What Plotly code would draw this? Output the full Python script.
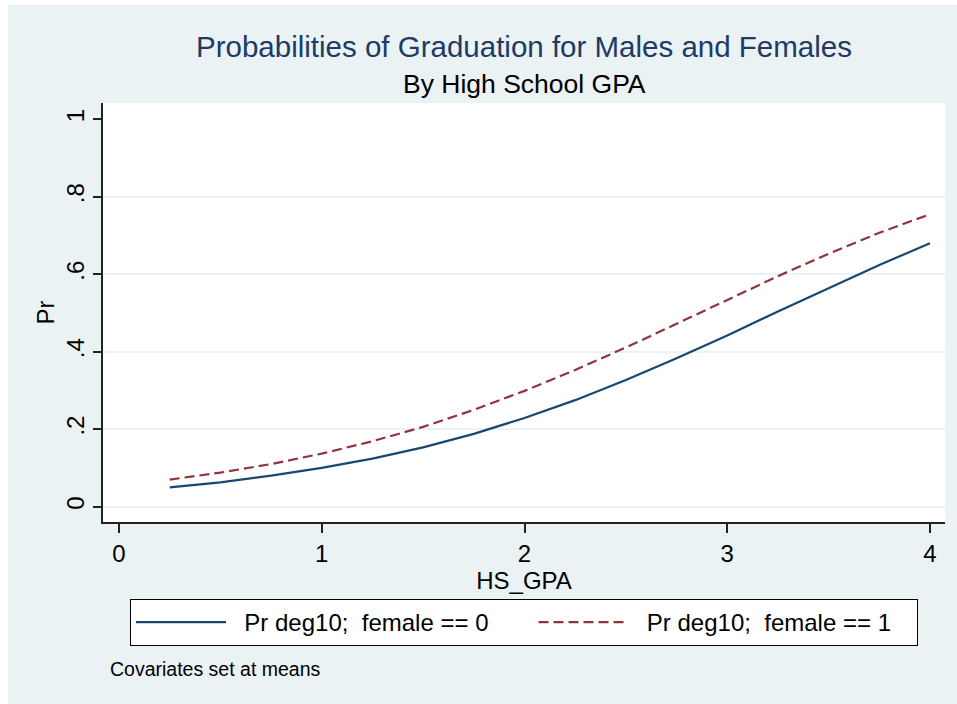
import plotly.graph_objects as go

# Data
hs_gpa = [0.25, 0.5, 0.75, 1.0, 1.25, 1.5, 1.75, 2.0, 2.25, 2.5, 2.75, 3.0, 3.25, 3.5, 3.75, 4.0]
pr_male = [0.050, 0.063, 0.080, 0.100, 0.124, 0.153, 0.188, 0.229, 0.275, 0.327, 0.383, 0.442, 0.504, 0.565, 0.624, 0.680]
pr_female = [0.070, 0.088, 0.110, 0.137, 0.169, 0.206, 0.250, 0.299, 0.353, 0.411, 0.472, 0.534, 0.595, 0.653, 0.707, 0.755]

x_tickvals = [0, 1, 2, 3, 4]
x_ticktext = ["0", "1", "2", "3", "4"]
y_tickvals = [0, 0.2, 0.4, 0.6, 0.8, 1]
y_ticktext = ["0", ".2", ".4", ".6", ".8", "1"]
y_gridvals = [0, 0.2, 0.4, 0.6, 0.8]

FONT = "Liberation Sans, Arial, sans-serif"
BG = "#EAF2F3"
NAVY = "#1A476F"
MAROON = "#90353B"
NB = "\u00a0"

# page offset of the figure (white border at left/top as in the reference)
OFFX, OFFY = 8, 5
W, H = 957 - OFFX, 704 - OFFY
L, T = 103 - OFFX, 103 - OFFY
R = W - (945 - OFFX)
B = H - (522 - OFFY)
pw, ph = W - L - R, H - T - B


def px2paper_x(sx):
    return (sx - OFFX - L) / pw


def py2paper_y(sy):
    return (H - B - (sy - OFFY)) / ph


fig = go.Figure()
fig.add_trace(go.Scatter(
    x=hs_gpa, y=pr_male, mode="lines",
    name=NB * 2 + "Pr deg10;" + NB + " female == 0" + NB * 6,
    line=dict(color=NAVY, width=2.2),
))
fig.add_trace(go.Scatter(
    x=hs_gpa, y=pr_female, mode="lines",
    name=NB * 2 + "Pr deg10;" + NB + " female == 1" + NB * 3,
    line=dict(color=MAROON, width=2.2, dash="10px,5px"),
))
# invisible trace tying the grid-only axis to the plot
fig.add_trace(go.Scatter(
    x=[hs_gpa[0]], y=[pr_male[0]], yaxis="y2", mode="lines",
    showlegend=False, hoverinfo="skip", line=dict(width=0),
))

fig.update_layout(
    width=W, height=H,
    margin=dict(l=L, r=R, t=T, b=B, pad=0),
    paper_bgcolor=BG,
    plot_bgcolor="white",
    font=dict(family=FONT, color="black", size=24),
    showlegend=True,
    title=dict(
        text="Probabilities of Graduation for Males and Females",
        font=dict(family=FONT, size=29.5, color="#1E3A66"),
        x=0.5, xref="paper", xanchor="center",
        y=1 - (47 - OFFY) / H, yref="container", yanchor="middle",
    ),
    legend=dict(
        orientation="h",
        x=px2paper_x(524), xanchor="center", xref="paper",
        y=py2paper_y(599), yanchor="top", yref="paper",
        bgcolor="white", bordercolor="black", borderwidth=1,
        font=dict(family=FONT, size=24, color="black"),
        itemwidth=90,
        traceorder="normal",
    ),
    xaxis=dict(
        range=[-0.0789, 4.074],
        tickvals=x_tickvals, ticktext=x_ticktext,
        ticks="outside", ticklen=9, tickwidth=1.5, tickcolor="#222",
        showline=True, linecolor="#222", linewidth=1.5,
        showgrid=False, zeroline=False,
        tickfont=dict(family=FONT, size=24, color="black"),
        title=dict(text="HS_GPA", font=dict(family=FONT, size=24, color="black"), standoff=4),
    ),
    yaxis=dict(
        range=[-0.0395, 1.042],
        tickvals=y_tickvals, ticktext=y_ticktext,
        tickangle=-90,
        ticks="outside", ticklen=8, tickwidth=1.5, tickcolor="#222",
        showline=True, linecolor="#222", linewidth=1.5,
        showgrid=False,
        zeroline=False,
        tickfont=dict(family=FONT, size=24, color="black"),
        title=dict(text="Pr", font=dict(family=FONT, size=24, color="black"), standoff=0),
    ),
    yaxis2=dict(
        overlaying="y", matches="y",
        tickvals=y_gridvals, showticklabels=False, ticks="",
        showgrid=True, gridcolor=BG, gridwidth=2,
        zeroline=False, showline=False,
    ),
    annotations=[
        dict(text="By High School GPA", xref="paper", yref="paper",
             x=0.5, y=py2paper_y(84), xanchor="center", yanchor="middle",
             showarrow=False, font=dict(family=FONT, size=26.5, color="black")),
        dict(text="Covariates set at means", xref="paper", yref="paper",
             x=px2paper_x(108), y=py2paper_y(669), xanchor="left", yanchor="middle",
             showarrow=False, font=dict(family=FONT, size=19.5, color="black")),
    ],
)

page_style = (
    "document.body.style.margin='%dpx 0 0 %dpx';"
    "document.body.style.overflow='hidden';"
    "document.documentElement.style.overflow='hidden';" % (OFFY, OFFX)
)
fig.write_html("out.html", post_script=page_style)
